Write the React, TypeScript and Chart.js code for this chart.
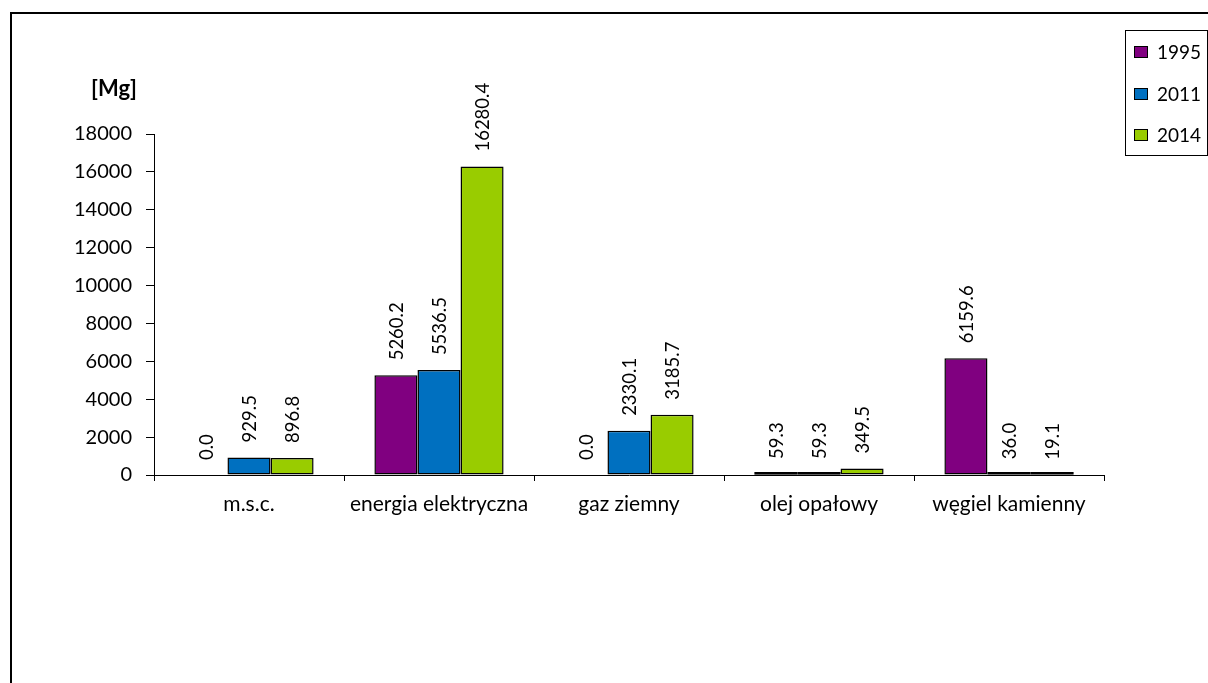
import React, { useEffect, useRef } from "react";
import { Chart, registerables } from "chart.js";

Chart.register(...registerables);

const categories = ["m.s.c.", "energia elektryczna", "gaz ziemny", "olej opałowy", "węgiel kamienny"];
const seriesLabels = ["1995", "2011", "2014"];
const values1995 = [0.0, 5260.2, 0.0, 59.3, 6159.6];
const values2011 = [929.5, 5536.5, 2330.1, 59.3, 36.0];
const values2014 = [896.8, 16280.4, 3185.7, 349.5, 19.1];
const seriesColors = ["#800080", "#0070C0", "#99CC00"];
const unitLabel = "[Mg]";
const yMax = 18000;
const yStep = 2000;

const FONT = "Lato";

const extrasPlugin = {
  id: "extras",
  afterDatasetsDraw(chart: any) {
    const ctx = chart.ctx;
    ctx.save();
    // thin bars: keep a visible outline like the original
    chart.data.datasets.forEach((ds: any, i: number) => {
      const meta = chart.getDatasetMeta(i);
      meta.data.forEach((bar: any, j: number) => {
        const v = ds.data[j];
        if (v > 0 && Math.abs(bar.base - bar.y) < 2.5) {
          ctx.fillStyle = "#000";
          ctx.fillRect(bar.x - bar.width / 2, bar.base - 2.5, bar.width, 2.5);
        }
      });
    });
    ctx.font = `18.5px ${FONT}`;
    ctx.fillStyle = "#000";
    chart.data.datasets.forEach((ds: any, i: number) => {
      const meta = chart.getDatasetMeta(i);
      meta.data.forEach((bar: any, j: number) => {
        const v = ds.data[j];
        ctx.save();
        ctx.translate(bar.x, bar.y - 15);
        ctx.rotate(-Math.PI / 2);
        ctx.textAlign = "left";
        ctx.textBaseline = "middle";
        ctx.fillText(v.toFixed(1), 0, 1);
        ctx.restore();
      });
    });
    ctx.restore();
  },
  afterDraw(chart: any) {
    const ctx = chart.ctx;
    ctx.save();
    // outer frame
    ctx.strokeStyle = "#000";
    ctx.lineWidth = 2;
    ctx.beginPath();
    ctx.moveTo(11, 683);
    ctx.lineTo(11, 13);
    ctx.lineTo(1208, 13);
    ctx.stroke();
    // unit label
    ctx.fillStyle = "#000";
    ctx.font = `bold 22px ${FONT}`;
    ctx.textAlign = "center";
    ctx.textBaseline = "middle";
    ctx.fillText(unitLabel, 114, 89);
    // legend
    ctx.lineWidth = 1;
    ctx.strokeRect(1125.5, 30.5, 82, 125);
    ctx.font = `19px ${FONT}`;
    chart.data.datasets.forEach((ds: any, i: number) => {
      const cy = 52 + i * 41.5;
      ctx.fillStyle = ds.backgroundColor;
      ctx.fillRect(1134, Math.round(cy) - 6, 14, 12);
      ctx.strokeRect(1134.5, Math.round(cy) - 5.5, 13, 11);
      ctx.fillStyle = "#000";
      ctx.textAlign = "left";
      ctx.textBaseline = "middle";
      ctx.fillText(ds.label, 1157, cy + 1);
    });
    ctx.restore();
  },
};

export default function App() {
  const ref = useRef<HTMLCanvasElement>(null);
  useEffect(() => {
    if (!ref.current) return;
    const seriesValues = [values1995, values2011, values2014];
    const chart = new Chart(ref.current, {
      type: "bar",
      data: {
        labels: categories,
        datasets: seriesLabels.map((label, i) => ({
          label,
          data: seriesValues[i],
          backgroundColor: seriesColors[i],
          borderColor: "#000",
          borderWidth: 1.5,
          borderSkipped: false,
          categoryPercentage: 0.68,
          barPercentage: 1.0,
        })),
      },
      options: {
        responsive: false,
        animation: false,
        layout: { padding: { left: 0, top: 134, right: 104, bottom: 0 } },
        plugins: {
          legend: { display: false },
          tooltip: { enabled: false },
        },
        scales: {
          x: {
            grid: {
              display: true,
              drawOnChartArea: false,
              drawTicks: true,
              tickLength: 6,
              color: "#000",
              offset: true,
            },
            border: { display: true, color: "#000", width: 1 },
            ticks: {
              color: "#000",
              font: { family: FONT, size: 21 },
              padding: 11,
              maxRotation: 0,
              autoSkip: false,
            },
            afterFit: (s: any) => {
              s.height = 208;
            },
          },
          y: {
            min: 0,
            max: yMax,
            grid: {
              display: true,
              drawOnChartArea: false,
              drawTicks: true,
              tickLength: 8,
              color: "#000",
            },
            border: { display: true, color: "#000", width: 1 },
            ticks: {
              stepSize: yStep,
              color: "#000",
              font: { family: FONT, size: 20 },
              padding: 14,
              callback: (v: any) => String(v),
            },
            afterFit: (s: any) => {
              s.width = 154;
            },
          },
        },
      },
      plugins: [extrasPlugin],
    });
    return () => chart.destroy();
  }, []);
  return (
    <div style={{ position: "absolute", left: 0, top: 0, width: 1208, height: 683, background: "#fff" }}>
      <canvas ref={ref} width={1208} height={683} style={{ display: "block" }} />
    </div>
  );
}
